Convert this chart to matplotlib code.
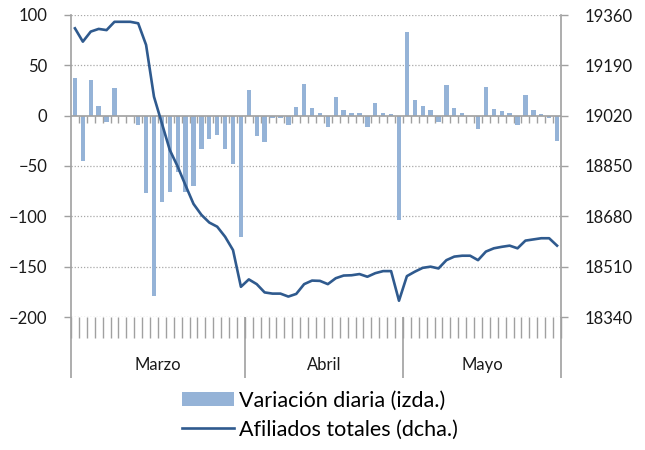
import numpy as np
import matplotlib
matplotlib.use("Agg")
import matplotlib.pyplot as plt
from matplotlib.patches import Patch
from matplotlib.lines import Line2D
import matplotlib.transforms as mtransforms

plt.rcParams['font.family'] = ['Lato', 'DejaVu Sans']

# Daily variation (left axis), one value per working day
var_marzo = [37, -45, 35, 10, -6, 27, 0, 0, -9, -77, -179, -86, -76, -56, -76, -70,
             -33, -23, -19, -33, -48, -121]
var_abril = [25, -20, -26, -2, -2, -9, 9, 31, 8, 3, -11, 19, 6, 3, 3, -11, 13, 3, 2, -104]
var_mayo = [83, 16, 10, 6, -6, 30, 8, 3, 0, -13, 28, 7, 5, 3, -9, 21, 6, 2, -2, -25]

# Total affiliates (right axis)
tot_marzo = [19315, 19270, 19304, 19313, 19309, 19337, 19337, 19337, 19332, 19259, 19084,
             18994, 18904, 18848, 18784, 18722, 18685, 18659, 18645, 18611, 18566, 18442]
tot_abril = [18467, 18451, 18423, 18419, 18419, 18409, 18418, 18451, 18463, 18462, 18451,
             18471, 18480, 18481, 18485, 18476, 18488, 18495, 18495, 18395]
tot_mayo = [18478, 18493, 18506, 18510, 18504, 18532, 18544, 18547, 18547, 18532, 18561,
            18572, 18577, 18581, 18572, 18598, 18602, 18606, 18606, 18581]

meses = ["Marzo", "Abril", "Mayo"]
left_ticks = [100, 50, 0, -50, -100, -150, -200]
right_ticks = [19360, 19190, 19020, 18850, 18680, 18510, 18340]

variacion = var_marzo + var_abril + var_mayo
total = tot_marzo + tot_abril + tot_mayo
n = len(variacion)
x = np.arange(n)
sizes = [len(var_marzo), len(var_abril), len(var_mayo)]

bar_color = "#95b3d7"
line_color = "#2f5a8e"
axis_gray = "#a0a0a0"

fig = plt.figure(figsize=(6.45, 4.5), dpi=100)
ax = fig.add_axes([71 / 645, 1 - 317 / 450, 490 / 645, 302 / 450])

# dotted grid
for v in left_ticks:
    if v != 0:
        ax.axhline(v, color="#a8a8a8", lw=0.9, ls=(0, (1, 1.5)), zorder=0)

ax.bar(x, variacion, width=0.55, color=bar_color, zorder=2)
ax.axhline(0, color=axis_gray, lw=1.2, zorder=3)

# small ticks at the zero line
bounds = np.arange(n + 1) - 0.5
ax.vlines(bounds[1:-1], -7, 0, color=axis_gray, lw=1.0, zorder=1)

ax.set_xlim(-0.5, n - 0.5)
ax.set_ylim(-200, 100)
ax.set_yticks(left_ticks)
ax.set_xticks([])
for s in ["top", "right", "bottom"]:
    ax.spines[s].set_visible(False)
ax.spines["left"].set_color(axis_gray)
ax.spines["left"].set_linewidth(1.2)
ax.tick_params(axis="y", direction="out", length=5, width=1.0, color=axis_gray,
               pad=12, labelsize=12, labelcolor="#1a1a1a")

ax2 = ax.twinx()
ax2.plot(x, total, color=line_color, lw=1.9, zorder=4)
ax2.set_ylim(18340, 19360)
ax2.set_yticks(right_ticks)
for s in ["top", "left", "bottom"]:
    ax2.spines[s].set_visible(False)
ax2.spines["right"].set_color(axis_gray)
ax2.spines["right"].set_linewidth(1.2)
ax2.tick_params(axis="y", direction="out", length=5, width=1.0, color=axis_gray,
                pad=12, labelsize=12, labelcolor="#1a1a1a")

# category axis below the plot
trans = mtransforms.blended_transform_factory(ax.transData, ax.transAxes)
ax.vlines(bounds, -21 / 302, 0, color=axis_gray, lw=1.0, transform=trans, clip_on=False)
edges = np.concatenate([[0], np.cumsum(sizes)]) - 0.5
ax.vlines(edges, -61 / 302, 0, color=axis_gray, lw=1.2, transform=trans, clip_on=False)
for i, mes in enumerate(meses):
    ax.text((edges[i] + edges[i + 1]) / 2, -48 / 302, mes, transform=trans,
            ha="center", va="center", fontsize=12, color="#1a1a1a")

handles = [Patch(facecolor=bar_color, edgecolor="none"),
           Line2D([0], [0], color=line_color, lw=1.9)]
labels = ["Variación diaria (izda.)", "Afiliados totales (dcha.)"]
fig.legend(handles, labels, loc="center", bbox_to_anchor=(320 / 645, 1 - 415 / 450),
           frameon=False, fontsize=15.5, handlelength=2.4, handleheight=0.6,
           handletextpad=0.25, labelspacing=0.42, borderpad=0)

fig.savefig("out.png", dpi=100)
